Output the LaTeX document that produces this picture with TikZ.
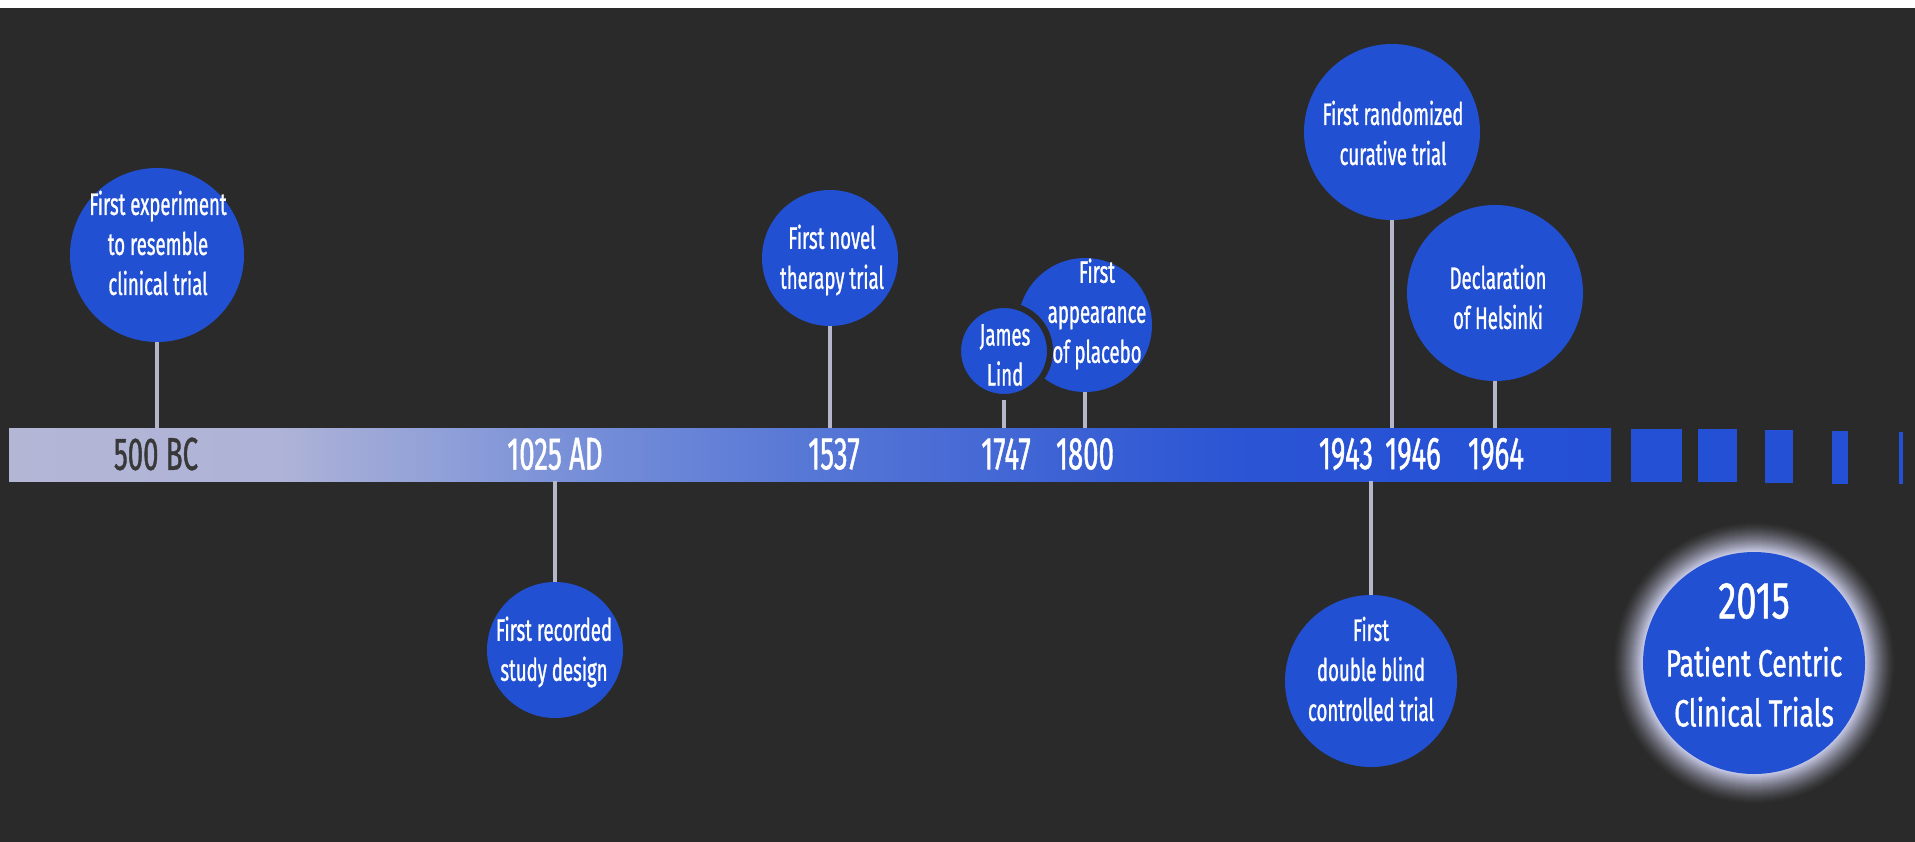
\documentclass[tikz,border=0pt]{standalone}
\usepackage{fontspec}
\setmainfont{Fira Sans}[FakeStretch=0.6, FakeBold=0.9]
\newfontfamily\widefont{Fira Sans}[FakeStretch=0.7, FakeBold=0.9]

\definecolor{bgdark}{HTML}{2A2A2A}
\definecolor{eventblue}{HTML}{2250D2}
\definecolor{stemgrey}{HTML}{B6B6CA}
\definecolor{glowlav}{HTML}{C4C6E2}
\definecolor{yeardark}{HTML}{383838}
\definecolor{barA}{HTML}{B4B6D6}
\definecolor{barB}{HTML}{AEB3D7}
\definecolor{barC}{HTML}{7A91D8}
\definecolor{barD}{HTML}{5878D6}
\definecolor{barE}{HTML}{3E63D4}
\definecolor{barF}{HTML}{2A54D4}
\definecolor{barG}{HTML}{2450D6}

\begin{document}
\begin{tikzpicture}[x=0.5pt,y=-0.5pt,
  event/.style={circle, fill=eventblue, inner sep=0pt, minimum size=#1},
  caption/.style={text=white, align=center, inner sep=0pt,
    font=\fontsize{15.5}{20}\selectfont},
  year/.style={text=white, inner sep=0pt, font=\fontsize{23}{26}\selectfont},
  stem/.style={draw=stemgrey, line width=2pt},
  dash block/.style={fill=barG}]

% canvas
\useasboundingbox (0,0) rectangle (1915,841);
\fill[bgdark] (-10,0) rectangle (1925,851);
\fill[white] (-10,-10) rectangle (1925,8);

% the time bar, lighter on the left, deep blue on the right
\fill[left color=barA, right color=barB] (9,428) rectangle (281,481);
\fill[left color=barB, right color=barC] (280,428) rectangle (561,481);
\fill[left color=barC, right color=barD] (560,428) rectangle (801,481);
\fill[left color=barD, right color=barE] (800,428) rectangle (1051,481);
\fill[left color=barE, right color=barF] (1050,428) rectangle (1251,481);
\fill[left color=barF, right color=barG] (1250,428) rectangle (1611,481);

% shrinking blocks after the bar
\fill[dash block] (1631,429) rectangle (1682,482);
\fill[dash block] (1698,429) rectangle (1737,482);
\fill[dash block] (1765,430) rectangle (1793,483);
\fill[dash block] (1832,431) rectangle (1848,484);
\fill[dash block] (1899,432) rectangle (1903,484);

% years on the bar
\node[year, text=yeardark] (y500) at (156,454) {500 BC};
\node[year] (y1025) at (555,454) {1025 AD};
\node[year] (y1537) at (834,454) {1537};
\node[year] (y1747) at (1006,454) {1747};
\node[year] (y1800) at (1085,454) {1800};
\node[year] (y1943) at (1346,454) {1943};
\node[year] (y1946) at (1413,454) {1946};
\node[year] (y1964) at (1496,454) {1964};

% points where the stems meet the bar
\coordinate (pA) at (157,428);
\coordinate (pB) at (555,481);
\coordinate (pC) at (830,428);
\coordinate (pD) at (1004,428);
\coordinate (pE) at (1085,428);
\coordinate (pF) at (1392,428);
\coordinate (pG) at (1495,428);
\coordinate (pH) at (1371,481);

% event circles
\node[event=87pt] (cA) at (157,255) {};
\node[event=68pt] (cB) at (555,650) {};
\node[event=68pt] (cC) at (830,258) {};
\node[event=67pt] (cE) at (1085,325) {};
\node[event=46pt, draw=bgdark, line width=3pt] (cD) at (1004,351) {};
\node[event=88pt] (cF) at (1392,132) {};
\node[event=88pt] (cG) at (1495,293) {};
\node[event=86pt] (cH) at (1371,681) {};

% stems
\draw[stem] (cA) -- (pA);
\draw[stem] (pB) -- (cB);
\draw[stem] (cC) -- (pC);
\draw[stem] (cD) -- (pD);
\draw[stem] (cE) -- (pE);
\draw[stem] (cF) -- (pF);
\draw[stem] (cG) -- (pG);
\draw[stem] (pH) -- (cH);

% captions
\node[caption] (tA) at (158,243) {First experiment\\to resemble\\clinical trial};
\node[caption] (tB) at (554,652) {First recorded\\study design};
\node[caption] (tC) at (832,260) {First novel\\therapy trial};
\node[caption] (tE) at (1097,314) {First\\appearance\\of placebo};
\node[caption] (tD) at (1005,355) {James\\Lind};
\node[caption] (tF) at (1393,133) {First randomized\\curative trial};
\node[caption] (tG) at (1498,297) {Declaration\\of Helsinki};
\node[caption] (tH) at (1371,669) {First\\double blind\\controlled trial};

% glowing final milestone
\coordinate (g2015) at (1754,663);
\foreach \k in {0,...,30}{
  \pgfmathsetmacro\pct{100*(\k/30)^1.4}
  \pgfmathsetmacro\rad{142-\k}
  \fill[glowlav!\pct!bgdark] (g2015) circle[radius=\rad];
}
\node[event=111pt] (c2015) at (g2015) {};
\node[caption, font=\widefont\fontsize{19}{25}\selectfont] (t2015) at (1754,655)
  {{\fontsize{26}{30}\selectfont 2015}\\[4pt]Patient Centric\\Clinical Trials};
\end{tikzpicture}
\end{document}
